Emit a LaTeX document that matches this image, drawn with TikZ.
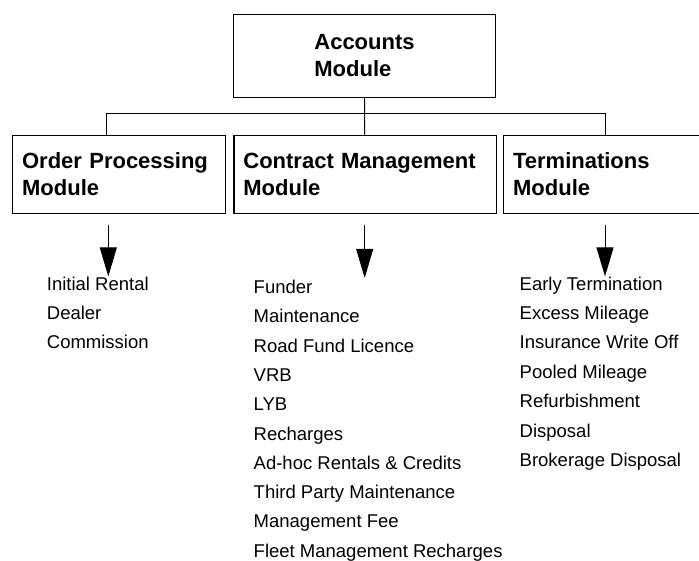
\documentclass[tikz,border=0pt]{standalone}
\usepackage{fontspec}
\setmainfont{Liberation Sans}
\usetikzlibrary{arrows.meta}
\begin{document}
\begin{tikzpicture}[x=1pt,y=-1pt,
  modbox/.style={draw, line width=1.2pt, inner sep=0pt, align=left,
    font=\fontsize{22}{27}\selectfont\bfseries},
  item/.style={anchor=base west, inner sep=0pt, font=\fontsize{18.5}{22}\selectfont},
  conn/.style={line width=1pt},
  bigarrow/.style={line width=1pt, -{Triangle[length=29pt,width=17pt]}}]
\useasboundingbox (0,0) rectangle (699,560);
\clip (0,0) rectangle (699,560);
% boxes
\node[modbox, minimum width=262.4pt, minimum height=82.6pt] (acc) at (364.5,56) {Accounts\\Module};
\node[modbox, text width=194pt, inner xsep=9.5pt, minimum height=78pt, anchor=north west] (op) at (12,134.5) {Order Processing\\Module};
\node[modbox, text width=243.4pt, inner xsep=9.5pt, minimum height=78pt, anchor=north west] (cm) at (233.3,134.5) {Contract Management\\Module};
\node[modbox, text width=198pt, inner xsep=9.5pt, minimum height=78pt, anchor=north west] (term) at (503,134.5) {Terminations\\Module};
% bus
\coordinate (bj) at (364.7,113.3);
\coordinate (bl) at (106.7,113.3);
\coordinate (br) at (605,113.3);
\draw[conn] (acc.south) -- (bj) -- (bj |- cm.north);
\draw[conn] (bl |- op.north) -- (bl) -- (br) -- (br |- term.north);
% item lists
\foreach \t [count=\i] in {Initial Rental, Dealer, Commission}
  \node[item] (l\i) at (46.7,{290+(\i-1)*29.4}) {\t};
\foreach \t [count=\i] in {Funder, Maintenance, Road Fund Licence, VRB, LYB, Recharges, Ad-hoc Rentals \& Credits, Third Party Maintenance, Management Fee, Fleet Management Recharges}
  \node[item] (m\i) at (253.5,{293.5+(\i-1)*29.3}) {\t};
\foreach \t [count=\i] in {Early Termination, Excess Mileage, Insurance Write Off, Pooled Mileage, Refurbishment, Disposal, Brokerage Disposal}
  \node[item] (r\i) at (519.5,{290+(\i-1)*29.4}) {\t};
% arrows
\coordinate (s1) at (108.3,225);
\coordinate (s2) at (364.7,225);
\coordinate (s3) at (605,225);
\draw[bigarrow] (s1) -- (s1 |- l1.north);
\draw[bigarrow] (s2) -- ([yshift=2pt]s2 |- m1.north);
\draw[bigarrow] (s3) -- (s3 |- r1.north);
\end{tikzpicture}
\end{document}
